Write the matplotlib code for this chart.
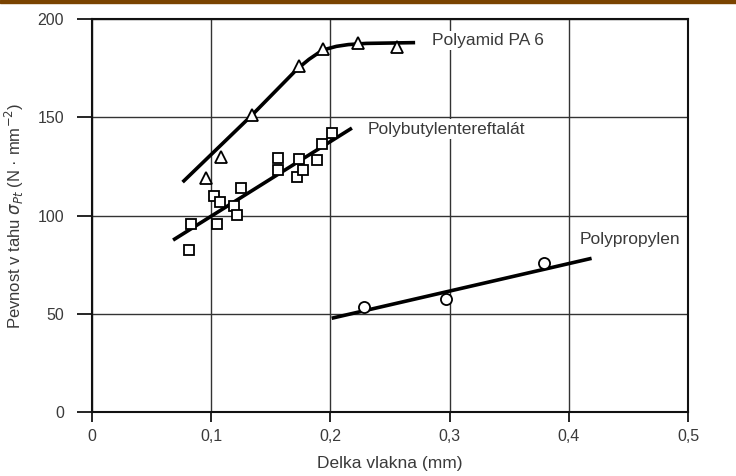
import matplotlib.pyplot as plt
from matplotlib.patches import Rectangle

# --- DATA ---
# Polyamid PA 6 (triangles)
pa6_x = [0.096, 0.108, 0.134, 0.174, 0.194, 0.223, 0.256]
pa6_y = [119, 130, 151, 176, 185, 188, 186]
pa6_line_x = [0.076, 0.134, 0.172, 0.182, 0.190, 0.197, 0.205, 0.215, 0.230, 0.271]
pa6_line_y = [117, 151, 174.5, 179.5, 182.8, 184.8, 186.1, 187, 187.6, 188]

# Polybutylentereftalat (squares)
pbt_x = [0.081, 0.083, 0.102, 0.107, 0.105, 0.119, 0.122, 0.125,
         0.156, 0.156, 0.174, 0.172, 0.177, 0.189, 0.193, 0.201]
pbt_y = [82.5, 95.5, 110, 107, 95.5, 105, 100.5, 114,
         129.5, 123, 129, 119.5, 123, 128.5, 136.5, 142]
pbt_line_x = [0.068, 0.218]
pbt_line_y = [87.5, 144.5]

# Polypropylen (circles)
pp_x = [0.228, 0.297, 0.379]
pp_y = [53.5, 57.5, 76]
pp_line_x = [0.201, 0.419]
pp_line_y = [47.7, 78.2]

x_ticks = [0, 0.1, 0.2, 0.3, 0.4, 0.5]
x_tick_labels = ["0", "0,1", "0,2", "0,3", "0,4", "0,5"]
y_ticks = [0, 50, 100, 150, 200]

plt.rcParams['font.family'] = ['Liberation Sans', 'DejaVu Sans']
txt = '#3a3a3a'

fig = plt.figure(figsize=(7.36, 4.76), dpi=100)
ax = fig.add_axes([0.125, 0.1345, 0.81, 0.8255])

# thin brown strip along the top edge of the scan
fig.patches.append(Rectangle((0, 0.994), 1, 0.006, transform=fig.transFigure,
                             color='#7a4300', zorder=5))

# fit lines
for lx, ly in [(pa6_line_x, pa6_line_y), (pbt_line_x, pbt_line_y),
               (pp_line_x, pp_line_y)]:
    ax.plot(lx, ly, color='black', lw=2.6, solid_capstyle='butt')

# measured points
mk = dict(linestyle='none', markerfacecolor='white', markeredgecolor='black',
          markeredgewidth=1.3, zorder=3)
ax.plot(pa6_x, pa6_y, marker='^', markersize=8.5, **mk)
ax.plot(pbt_x, pbt_y, marker='s', markersize=7.5, **mk)
ax.plot(pp_x, pp_y, marker='o', markersize=8, **mk)

box = dict(facecolor='white', edgecolor='none', pad=1.5)
ax.text(0.285, 189, "Polyamid PA 6", fontsize=12.5, color=txt, va='center', bbox=box)
ax.text(0.231, 144, "Polybutylentereftalát", fontsize=12.5, color=txt, va='center', bbox=box)
ax.text(0.409, 88, "Polypropylen", fontsize=12.5, color=txt, va='center', bbox=box)

ax.set_xlim(0, 0.5)
ax.set_ylim(0, 200)
ax.set_xticks(x_ticks)
ax.set_xticklabels(x_tick_labels)
ax.set_yticks(y_ticks)
ax.tick_params(direction='out', width=1.2, colors='black',
               labelcolor=txt, labelsize=11.5)
ax.tick_params(axis='x', length=7, pad=5)
ax.tick_params(axis='y', length=11, pad=9)
ax.grid(True, color='#333333', lw=1.0)
ax.set_axisbelow(True)
for s in ax.spines.values():
    s.set_linewidth(1.5)
    s.set_color('#111111')

ax.set_xlabel("Delka vlakna (mm)", fontsize=12.5, color=txt, labelpad=9)
ax.set_ylabel(r"Pevnost v tahu $\sigma_{Pt}$ (N · mm$^{-2}$)", fontsize=12,
              color=txt, labelpad=8)

fig.savefig("out.png", dpi=100, facecolor='white')
